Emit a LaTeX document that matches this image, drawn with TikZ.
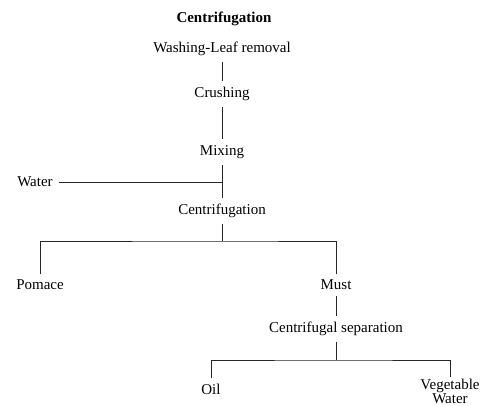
\documentclass[tikz,border=0pt]{standalone}
\usepackage{fontspec}
\setmainfont{Liberation Serif}
\begin{document}
\begin{tikzpicture}[x=1pt,y=-1pt,
  lbl/.style={inner sep=6pt,font=\fontsize{15}{12}\selectfont},
  conn/.style={draw=black!85,line width=1pt}]
\useasboundingbox (0,0) rectangle (482,405);
\fill[white] (0,0) rectangle (482,405);
\node[lbl,font=\fontsize{15}{12}\selectfont\bfseries] (title) at (224,19) {Centrifugation};
\node[lbl] (wash) at (222,49) {Washing-Leaf removal};
\node[lbl] (crush) at (222,94) {Crushing};
\node[lbl] (mix) at (222,152) {Mixing};
\node[lbl] (water) at (35,182) {Water};
\node[lbl] (cent) at (222,211) {Centrifugation};
\node[lbl] (pomace) at (40,285) {Pomace};
\node[lbl] (must) at (336,285) {Must};
\node[lbl] (csep) at (336,329) {Centrifugal separation};
\node[lbl] (oil) at (211,389) {Oil};
\node[lbl,inner sep=1pt,align=center,font=\fontsize{15}{11}\selectfont] (veg) at (450,391) {Vegetable\\Water};
\coordinate (split1) at (222,241);
\coordinate (split2) at (336,360);
\draw[conn] (wash) -- (crush);
\draw[conn] (crush) -- (mix);
\draw[conn] (mix) -- (cent);
\draw[conn] (water) -- (water -| mix);
\draw[conn] (cent) -- (split1);
\draw[conn] (pomace) |- (split1) -| (must);
\draw[conn] (must) -- (csep);
\draw[conn] (csep) -- (split2);
\draw[conn] (oil) |- (split2) -| (veg);
\end{tikzpicture}
\end{document}
